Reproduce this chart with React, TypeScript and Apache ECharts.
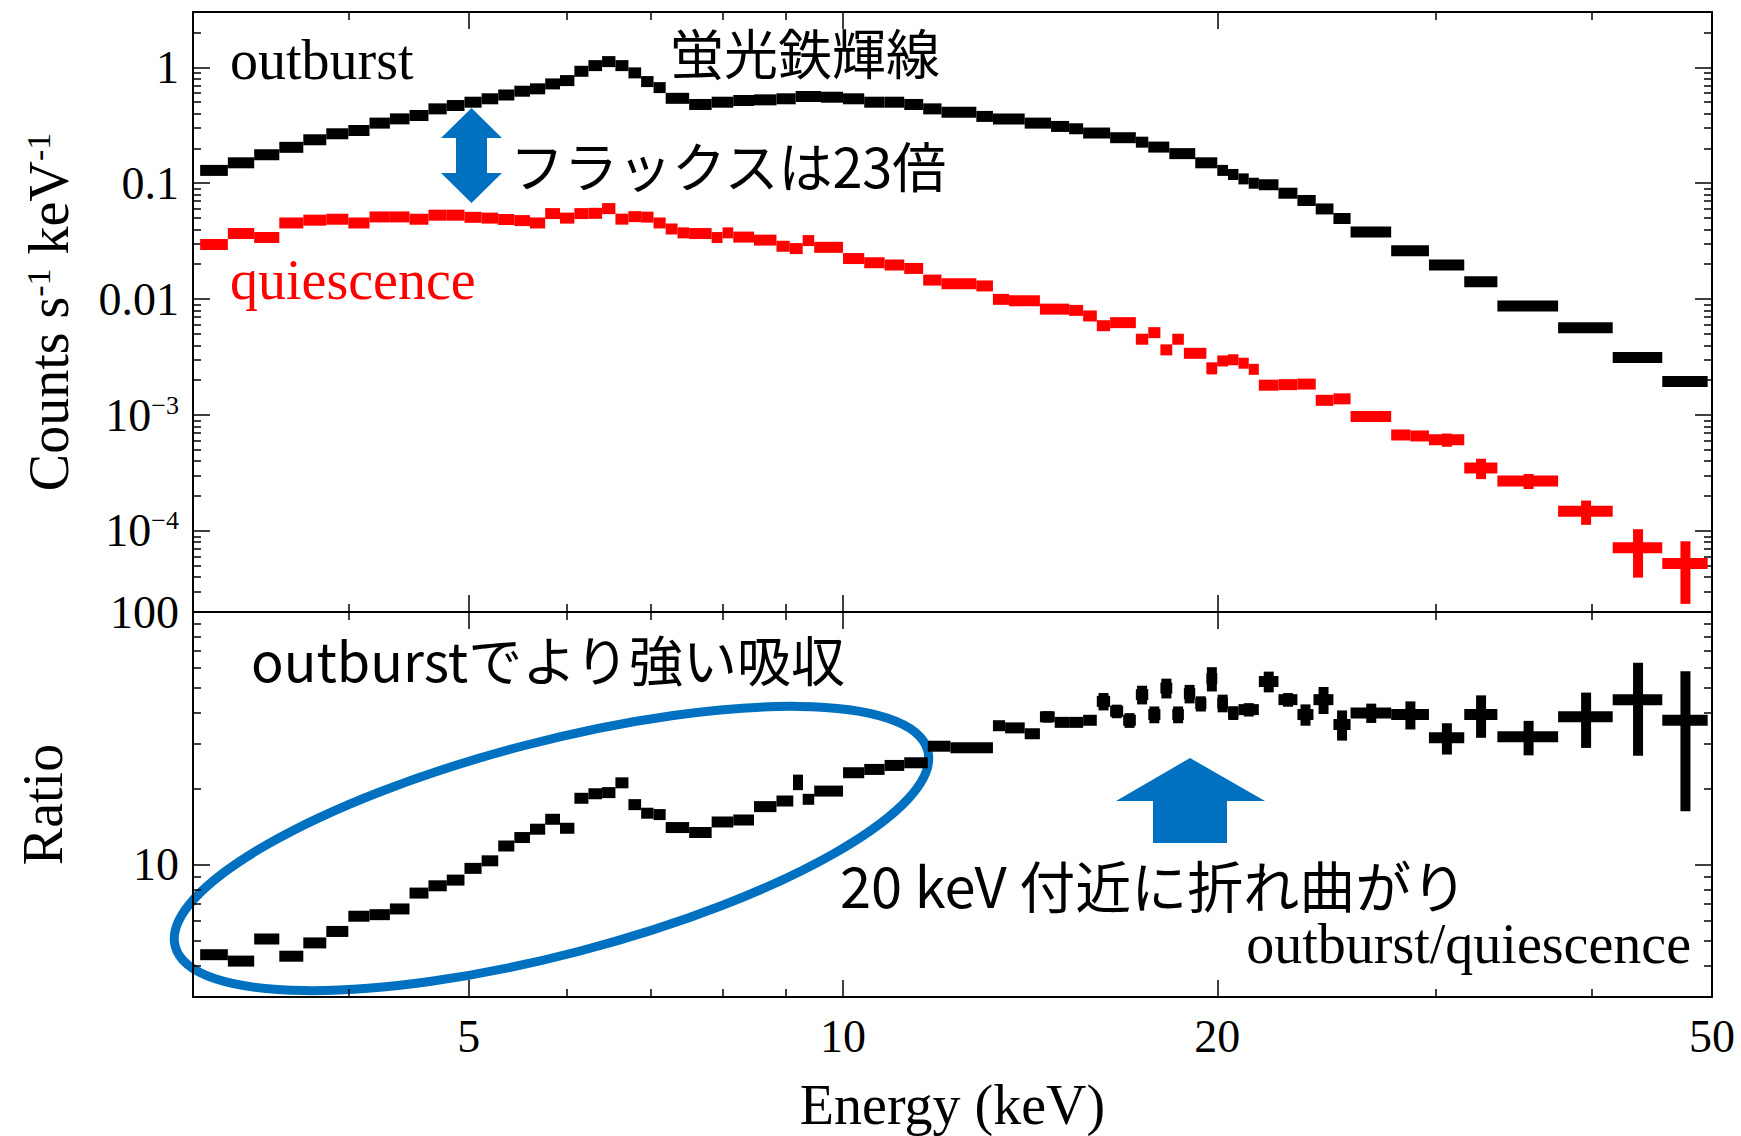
import React, { useEffect, useRef } from "react";
import * as echarts from "echarts";

const SERIF = '"Liberation Serif", "Times New Roman", serif';
const CJK = '"Noto Sans CJK JP", "Noto Sans", sans-serif';

// ---------- axis ranges & ticks ----------
const energyMin = 3;
const energyMax = 50;
const energyMajorTicks = [5, 10, 20, 50];
const energyMinorTicks = [4, 6, 7, 8, 9, 30, 40];

const countsMin = 2e-5;
const countsMax = 3;
const countsMajorTicks = [1e-4, 1e-3, 0.01, 0.1, 1];
const countsTickLabels = ["10{sup|−4}", "10{sup|−3}", "0.01", "0.1", "1"];
const countsMinorMantissas = [2, 3, 4, 5, 6, 7, 8, 9];
const countsMinorDecades = [1e-5, 1e-4, 1e-3, 1e-2, 1e-1, 1];

const ratioMin = 3;
const ratioMax = 100;
const ratioMajorTicks = [10, 100];
const ratioTickLabels = ["10", "100"];
const ratioMinorTicks = [4, 5, 6, 7, 8, 9, 20, 30, 40, 50, 60, 70, 80, 90];

// ---------- outburst spectrum (black, counts s^-1 keV^-1) ----------
const outburstEdges = [
  3.04, 3.2, 3.36, 3.52, 3.68, 3.84, 4.0, 4.16, 4.32, 4.48, 4.64, 4.8, 4.96, 5.12,
  5.28, 5.44, 5.6, 5.76, 5.92, 6.08, 6.24, 6.4, 6.56, 6.72, 6.88, 7.04, 7.2, 7.52,
  7.84, 8.16, 8.48, 8.84, 9.16, 9.6, 10.0, 10.4, 10.8, 11.2, 11.6, 12.0, 12.8, 13.2,
  14.0, 14.7, 15.2, 15.6, 16.4, 17.2, 17.6, 18.3, 19.2, 20.0, 20.4, 20.8, 21.2, 21.6,
  22.4, 23.2, 24.0, 24.8, 25.6, 27.6, 29.6, 31.6, 33.6, 37.6, 41.6, 45.6, 49.6,
];
const outburstCounts = [
  0.129, 0.15, 0.176, 0.204, 0.237, 0.267, 0.285, 0.33, 0.359, 0.384, 0.438, 0.468,
  0.5, 0.535, 0.578, 0.622, 0.652, 0.719, 0.768, 0.924, 1.034, 1.12, 1.034, 0.895,
  0.753, 0.668, 0.54, 0.478, 0.5, 0.517, 0.524, 0.535, 0.56, 0.552, 0.535, 0.5, 0.5,
  0.478, 0.438, 0.41, 0.377, 0.359, 0.33, 0.309, 0.295, 0.271, 0.247, 0.226, 0.205,
  0.18, 0.15, 0.129, 0.119, 0.109, 0.1, 0.097, 0.082, 0.071, 0.06, 0.0496, 0.038,
  0.0261, 0.0197, 0.0141, 0.00873, 0.00567, 0.00313, 0.00195,
];

// ---------- quiescence spectrum (red) ----------
const quiescenceEdges = [
  3.04, 3.2, 3.36, 3.52, 3.68, 3.84, 4.0, 4.16, 4.32, 4.48, 4.64, 4.8, 4.96, 5.12,
  5.28, 5.44, 5.6, 5.76, 5.92, 6.08, 6.24, 6.4, 6.56, 6.72, 6.88, 7.04, 7.2, 7.36,
  7.52, 7.84, 8.0, 8.16, 8.48, 8.84, 9.06, 9.28, 9.48, 10.0, 10.4, 10.8, 11.2, 11.6,
  12.0, 12.8, 13.2, 13.6, 14.4, 15.2, 15.6, 16.0, 16.4, 17.2, 17.6, 18.0, 18.4, 18.8,
  19.6, 20.0, 20.4, 20.8, 21.2, 21.6, 22.4, 23.2, 24.0, 24.8, 25.6, 27.6, 28.6, 29.6,
  31.6, 33.6, 37.6, 41.6, 45.6, 49.6,
];
const quiescenceCounts = [
  0.0296, 0.0368, 0.034, 0.0454, 0.048, 0.0489, 0.0454, 0.0512, 0.0512, 0.0489,
  0.053, 0.053, 0.0508, 0.05, 0.0487, 0.0476, 0.0454, 0.0547, 0.05, 0.0547, 0.055,
  0.0604, 0.049, 0.0515, 0.051, 0.0454, 0.0403, 0.0373, 0.0368, 0.034, 0.0373,
  0.0343, 0.0323, 0.0286, 0.0273, 0.032, 0.028, 0.0224, 0.0206, 0.0197, 0.0184,
  0.0146, 0.0136, 0.013, 0.00996, 0.0097, 0.0082, 0.008, 0.00716, 0.0059, 0.00627,
  0.00451, 0.00514, 0.00365, 0.00451, 0.00341, 0.00254, 0.00293, 0.003, 0.0028,
  0.00248, 0.00181, 0.00183, 0.00185, 0.00134, 0.00138, 0.00097, 0.000673, 0.00066,
  0.000613, 0.00035, 0.00027, 0.000148, 0.0000716, 0.0000525,
];
const quiescenceErr = [
  0, 0, 0, 0, 0, 0, 0, 0, 0, 0, 0, 0, 0, 0, 0, 0, 0, 0, 0, 0, 0, 0, 0, 0, 0, 0, 0, 0,
  0, 0, 0, 0, 0, 0, 0.0025, 0, 0, 0, 0, 0, 0, 0, 0, 0, 0, 0, 0, 0, 0, 0, 0,
  0.0004, 0.0004, 0.0003, 0.0004, 0.0003, 0.0003, 0, 0, 0, 0, 0, 0, 0, 0, 0, 0,
  0.00007, 0.00007, 0.00008, 0.00007, 0.00004, 0.000035, 0.000032, 0.000029,
];

// ---------- ratio outburst/quiescence (black, lower panel) ----------
const ratioEdges = [
  3.04, 3.2, 3.36, 3.52, 3.68, 3.84, 4.0, 4.16, 4.32, 4.48, 4.64, 4.8, 4.96, 5.12,
  5.28, 5.44, 5.6, 5.76, 5.92, 6.08, 6.24, 6.4, 6.56, 6.72, 6.88, 7.04, 7.2, 7.52,
  7.84, 8.16, 8.48, 8.84, 9.12, 9.28, 9.48, 10.0, 10.4, 10.8, 11.2, 11.7, 12.2, 13.2,
  13.5, 14.0, 14.4, 14.8, 15.2, 15.6, 16.0, 16.4, 16.8, 17.2, 17.6, 18.0, 18.4, 18.8,
  19.2, 19.6, 20.0, 20.4, 20.8, 21.6, 22.4, 23.2, 23.9, 24.8, 25.6, 27.6, 29.6, 31.6,
  33.6, 37.6, 41.6, 45.6, 49.6,
];
const ratioValues = [
  4.41, 4.16, 5.09, 4.35, 4.91, 5.45, 6.26, 6.35, 6.69, 7.73, 8.26, 8.7, 9.68, 10.37,
  11.88, 12.82, 13.83, 15.14, 13.95, 18.33, 19.1, 19.3, 21.1, 17.3, 16.0, 15.8, 14.04,
  13.42, 14.77, 15.04, 16.99, 17.88, 21.24, 18.16, 19.57, 23.13, 23.84, 24.72, 25.33,
  29.45, 29.02, 35.5, 34.8, 33.0, 38.5, 36.6, 36.6, 37.3, 44.3, 40.5, 37.3, 47.1,
  39.3, 50.0, 39.3, 47.5, 43.4, 54.5, 43.6, 39.9, 41.1, 53.1, 45.0, 39.3, 45.0, 35.9,
  39.9, 39.3, 31.8, 39.3, 32.1, 38.5, 45.0, 37.3,
];
const ratioErr = [
  0, 0, 0, 0, 0, 0, 0, 0, 0, 0, 0, 0, 0, 0, 0, 0, 0, 0, 0, 0, 0, 0, 0, 0, 0, 0, 0, 0,
  0, 0, 0, 0, 1.5, 0, 0, 0, 0, 0, 0, 0, 0, 1.5, 1.2, 1.5, 2.0, 1.5, 1.5, 1.5, 3.5,
  2.5, 2.5, 4.0, 3.0, 4.5, 3.0, 4.0, 3.0, 6.0, 3.5, 2.5, 2.5, 5.0, 2.8, 3.8, 5.5,
  4.9, 3.5, 5.0, 4.5, 7.5, 5.0, 9.5, 18.0, 21.0,
];

// ---------- helpers ----------
const L = (v: number) => Math.log10(v);
const BAR_T = 11; // horizontal bar thickness (px)
const BAR_V = 10; // vertical error bar width (px)

function buildData(edges: number[], values: number[], errs?: number[]) {
  return values.map((v, i) => {
    const lo = edges[i];
    const hi = edges[i + 1];
    const e = errs ? errs[i] : 0;
    return [L(lo), L(hi), L(v), L((lo + hi) / 2), L(Math.max(v - e, v * 0.01)), L(v + e)];
  });
}

function errSeries(name: string, data: number[][], color: string, axisIndex: number) {
  return {
    type: "custom",
    name,
    xAxisIndex: axisIndex,
    yAxisIndex: axisIndex,
    clip: true,
    silent: true,
    data,
    encode: { x: [0, 1], y: [2, 4, 5] },
    renderItem: (params: any, api: any) => {
      const y = api.value(2);
      const pL = api.coord([api.value(0), y]);
      const pR = api.coord([api.value(1), y]);
      const c = api.value(3);
      const pLo = api.coord([c, api.value(4)]);
      const pHi = api.coord([c, api.value(5)]);
      const children: any[] = [
        {
          type: "rect",
          shape: { x: pL[0], y: pL[1] - BAR_T / 2, width: pR[0] - pL[0], height: BAR_T },
          style: { fill: color },
        },
      ];
      if (pLo[1] - pHi[1] > BAR_T) {
        children.push({
          type: "rect",
          shape: { x: pLo[0] - BAR_V / 2, y: pHi[1], width: BAR_V, height: pLo[1] - pHi[1] },
          style: { fill: color },
        });
      }
      return { type: "group", children };
    },
  };
}

const findLabel = (v: number, ticks: number[], labels: string[]) => {
  const i = ticks.findIndex((t) => Math.abs(L(t) - v) < 1e-6);
  return i >= 0 ? labels[i] : "";
};

function xAxesFor(gridIndex: number, withLabels: boolean) {
  const base = {
    type: "value",
    gridIndex,
    min: L(energyMin),
    max: L(energyMax),
    splitLine: { show: false },
  };
  const major = (position: string, labels: boolean) => ({
    ...base,
    position,
    axisLine: { show: true, onZero: false, lineStyle: { color: "#000", width: 2 } },
    axisTick: {
      show: true,
      inside: true,
      length: 17,
      lineStyle: { color: "#000", width: 1.5 },
      customValues: energyMajorTicks.map(L),
    },
    axisLabel: {
      show: labels,
      customValues: energyMajorTicks.map(L),
      formatter: (v: number) => String(Math.round(Math.pow(10, v))),
      margin: 16,
      fontSize: 46,
      fontFamily: SERIF,
      color: "#000",
    },
    ...(labels
      ? {
          name: "Energy (keV)",
          nameLocation: "middle",
          nameGap: 80,
          nameTextStyle: { fontSize: 56, fontFamily: SERIF, color: "#000" },
        }
      : {}),
  });
  const minor = (position: string) => ({
    ...base,
    position,
    axisLine: { show: false, onZero: false },
    axisTick: {
      show: true,
      inside: true,
      length: 8,
      lineStyle: { color: "#000", width: 1.5 },
      customValues: energyMinorTicks.map(L),
    },
    axisLabel: { show: false },
  });
  return [major("bottom", withLabels), minor("bottom"), major("top", false), minor("top")];
}

function yAxesFor(
  gridIndex: number,
  min: number,
  max: number,
  majors: number[],
  labels: string[],
  minors: number[],
  name: string,
  nameGap: number
) {
  const base = {
    type: "value",
    gridIndex,
    min: L(min),
    max: L(max),
    splitLine: { show: false },
  };
  const major = (position: string, showLabels: boolean) => ({
    ...base,
    position,
    axisLine: { show: true, onZero: false, lineStyle: { color: "#000", width: 2 } },
    axisTick: {
      show: true,
      inside: true,
      length: 17,
      lineStyle: { color: "#000", width: 1.5 },
      customValues: majors.map(L),
    },
    axisLabel: {
      show: showLabels,
      customValues: majors.map(L),
      formatter: (v: number) => findLabel(v, majors, labels),
      margin: 14,
      fontSize: 46,
      fontFamily: SERIF,
      color: "#000",
      rich: {
        sup: { fontSize: 26, fontFamily: SERIF, color: "#000", verticalAlign: "top" },
      },
    },
    ...(showLabels
      ? {
          name,
          nameLocation: "middle",
          nameRotate: 90,
          nameGap,
          nameTextStyle: {
            fontSize: 56,
            fontFamily: SERIF,
            color: "#000",
            rich: { sup: { fontSize: 34, fontFamily: SERIF, color: "#000", verticalAlign: "top" } },
          },
        }
      : {}),
  });
  const minor = (position: string) => ({
    ...base,
    position,
    axisLine: { show: false, onZero: false },
    axisTick: {
      show: true,
      inside: true,
      length: 8,
      lineStyle: { color: "#000", width: 1.5 },
      customValues: minors.filter((m) => m > min && m < max).map(L),
    },
    axisLabel: { show: false },
  });
  return [major("left", true), minor("left"), major("right", false), minor("right")];
}

export default function App() {
  const ref = useRef<HTMLDivElement>(null);

  useEffect(() => {
    if (!ref.current) return;
    const chart = echarts.init(ref.current, null, { renderer: "svg" });

    const countsMinorTicks: number[] = [];
    countsMinorDecades.forEach((d) => countsMinorMantissas.forEach((m) => countsMinorTicks.push(m * d)));

    const option: any = {
      animation: false,
      backgroundColor: "#fff",
      textStyle: { fontFamily: SERIF },
      grid: [
        { left: 193, top: 12, width: 1519, height: 600, outerBoundsMode: "none" },
        { left: 193, top: 612, width: 1519, height: 385, outerBoundsMode: "none" },
      ],
      xAxis: [...xAxesFor(0, false), ...xAxesFor(1, true)],
      yAxis: [
        ...yAxesFor(
          0,
          countsMin,
          countsMax,
          countsMajorTicks,
          countsTickLabels,
          countsMinorTicks,
          "Counts s{sup|-1} keV{sup|-1}",
          116
        ),
        ...yAxesFor(1, ratioMin, ratioMax, ratioMajorTicks, ratioTickLabels, ratioMinorTicks, "Ratio", 122),
      ],
      series: [
        errSeries("outburst", buildData(outburstEdges, outburstCounts), "#000000", 0),
        errSeries("quiescence", buildData(quiescenceEdges, quiescenceCounts, quiescenceErr), "#FF0000", 0),
        errSeries("outburst/quiescence", buildData(ratioEdges, ratioValues, ratioErr), "#000000", 4),
      ],
      graphic: [
        {
          type: "text",
          x: 230,
          y: 60,
          style: { text: "outburst", fontSize: 56, fontFamily: SERIF, fill: "#000", align: "left", verticalAlign: "middle" },
        },
        {
          type: "text",
          x: 230,
          y: 280,
          style: { text: "quiescence", fontSize: 56, fontFamily: SERIF, fill: "#FF0000", align: "left", verticalAlign: "middle" },
        },
        {
          type: "text",
          x: 1691,
          y: 944,
          style: { text: "outburst/quiescence", fontSize: 56, fontFamily: SERIF, fill: "#000", align: "right", verticalAlign: "middle" },
        },
        {
          type: "text",
          x: 670,
          y: 51,
          style: { text: "蛍光鉄輝線", fontSize: 54, fontFamily: CJK, fill: "#000", align: "left", verticalAlign: "middle" },
        },
        {
          type: "text",
          x: 510,
          y: 164,
          style: { text: "フラックスは23倍", fontSize: 54, fontFamily: CJK, fill: "#000", align: "left", verticalAlign: "middle" },
        },
        {
          type: "text",
          x: 251,
          y: 658,
          style: { text: "outburstでより強い吸収", fontSize: 54, fontFamily: CJK, fill: "#000", align: "left", verticalAlign: "middle" },
        },
        {
          type: "text",
          x: 840,
          y: 883,
          style: { text: "20 keV 付近に折れ曲がり", fontSize: 56, fontFamily: CJK, fill: "#000", align: "left", verticalAlign: "middle" },
        },
        {
          type: "polygon",
          shape: {
            points: [
              [471.5, 108], [502, 138], [487, 138], [487, 173], [502, 173],
              [471.5, 203], [441, 173], [456, 173], [456, 138], [441, 138],
            ],
          },
          style: { fill: "#0070C0" },
        },
        {
          type: "polygon",
          shape: {
            points: [
              [1190, 758], [1265, 801], [1227, 801], [1227, 843],
              [1153, 843], [1153, 801], [1116, 801],
            ],
          },
          style: { fill: "#0070C0" },
        },
        {
          type: "ellipse",
          x: 551.5,
          y: 848.5,
          rotation: 0.2546,
          shape: { cx: 0, cy: 0, rx: 388.7, ry: 106.4 },
          style: { fill: "none", stroke: "#0070C0", lineWidth: 9 },
        },
      ],
    };

    chart.setOption(option);
    return () => chart.dispose();
  }, []);

  return (
    <div
      ref={ref}
      style={{ position: "fixed", left: 0, top: 0, width: 1741, height: 1136, background: "#fff" }}
    />
  );
}
